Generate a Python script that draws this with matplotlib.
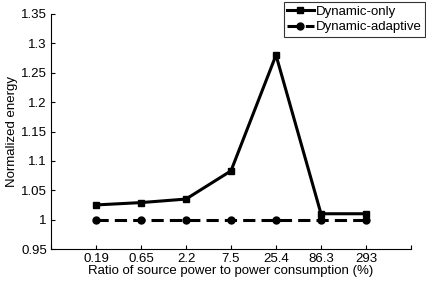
import matplotlib
matplotlib.use("Agg")
from matplotlib import pyplot as plt

ratios = ['0.19', '0.65', '2.2', '7.5', '25.4', '86.3', '293']
dynamic_only = [1.025, 1.029, 1.035, 1.083, 1.280, 1.010, 1.010]
dynamic_adaptive = [1.0, 1.0, 1.0, 1.0, 1.0, 1.0, 1.0]

plt.rcParams['font.family'] = ['Liberation Sans', 'DejaVu Sans']

fig = plt.figure(figsize=(4.26, 2.82), dpi=100)
ax = fig.add_axes([51 / 426, 33 / 282, 360 / 426, 235 / 282])

x = list(range(1, len(ratios) + 1))
ax.plot(x, dynamic_only, '-s', color='black', lw=2.2, ms=4.5, label='Dynamic-only')
ax.plot(x, dynamic_adaptive, '--o', color='black', lw=2.2, ms=5,
        dashes=(4, 2), label='Dynamic-adaptive')

ax.set_xlim(0, 8)
ax.set_ylim(0.95, 1.35)
ax.set_xticks(range(9))
ax.set_xticklabels([''] + ratios + [''])
ax.set_yticks([0.95, 1, 1.05, 1.1, 1.15, 1.2, 1.25, 1.3, 1.35])
ax.set_yticklabels(['0.95', '1', '1.05', '1.1', '1.15', '1.2', '1.25', '1.3', '1.35'])
ax.tick_params(direction='in', labelsize=9.5, length=3, width=0.8, pad=3)
ax.spines['top'].set_visible(False)
ax.spines['right'].set_visible(False)

ax.set_xlabel('Ratio of source power to power consumption (%)', fontsize=9.5, labelpad=0)
ax.set_ylabel('Normalized energy', fontsize=9.5, labelpad=2)

leg = ax.legend(loc='upper right', bbox_to_anchor=(1.04, 1.05), fontsize=9.5,
                frameon=True, fancybox=False, edgecolor='black',
                handlelength=2.0, handletextpad=0.2, borderpad=0.25,
                labelspacing=0.25, borderaxespad=0)
leg.get_frame().set_linewidth(0.8)

fig.savefig('out.png', dpi=100)
